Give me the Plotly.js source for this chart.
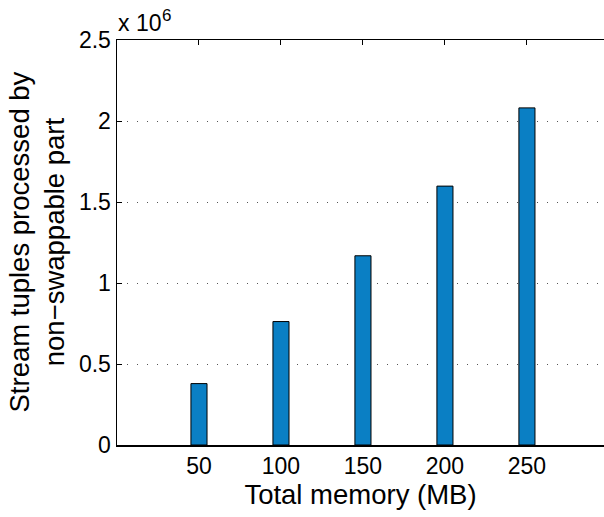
<!DOCTYPE html>
<html>
<head>
<meta charset="utf-8">
<script src="https://cdn.plot.ly/plotly-3.0.1.min.js"></script>
<style>html,body{margin:0;padding:0;background:#fff}#chart{width:604px;height:517px}</style>
</head>
<body>
<div id="chart"></div>
<script>
const memoryMB = [50, 100, 150, 200, 250];
const tuplesProcessed = [0.379e6, 0.762e6, 1.168e6, 1.598e6, 2.081e6];
const yTickVals = [0, 0.5e6, 1e6, 1.5e6, 2e6, 2.5e6];
const yTickText = ['0', '0.5', '1', '1.5', '2', '2.5'];
const xTickVals = [50, 100, 150, 200, 250];

const font = 'Liberation Sans, Arial, Helvetica, sans-serif';

const trace = {
  type: 'bar',
  x: memoryMB,
  y: tuplesProcessed,
  width: 9.8,
  marker: {color: '#0a7fc4', line: {color: '#000000', width: 1}},
  hoverinfo: 'x+y'
};

const layout = {
  width: 604, height: 517,
  margin: {l: 117, r: 0, t: 40, b: 71.5},
  paper_bgcolor: '#ffffff', plot_bgcolor: '#ffffff',
  showlegend: false,
  font: {family: font, size: 23, color: '#000'},
  xaxis: {
    range: [0, 297],
    tickvals: xTickVals,
    ticktext: xTickVals.map(String),
    ticks: 'inside', ticklen: 5, tickwidth: 1, tickcolor: '#000',
    showline: true, linecolor: '#000', linewidth: 1.5,
    mirror: 'ticks',
    showgrid: false, zeroline: false,
    layer: 'below traces',
    tickfont: {family: font, size: 23, color: '#000'},
    title: {text: 'Total memory (MB)', font: {family: font, size: 27.5, color: '#000'}, standoff: 1}
  },
  yaxis: {
    range: [0, 2.5e6],
    tickvals: yTickVals,
    ticktext: yTickText,
    ticks: 'inside', ticklen: 5, tickwidth: 1, tickcolor: '#000',
    showline: true, linecolor: '#000', linewidth: 1.5,
    mirror: false,
    showgrid: true, gridcolor: '#555', gridwidth: 1, griddash: '1px,9px',
    zeroline: false,
    layer: 'below traces',
    tickfont: {family: font, size: 23, color: '#000'},
    ticklabelstandoff: 0
  },
  annotations: [
    {
      text: 'Stream tuples processed by<br>non\u2212swappable part',
      xref: 'paper', yref: 'paper',
      x: (37 - 117) / 487, y: 0.5,
      xanchor: 'center', yanchor: 'middle',
      textangle: -90, showarrow: false,
      font: {family: font, size: 27.5, color: '#000'}
    },
    {
      text: 'x 10',
      xref: 'paper', yref: 'paper',
      x: 0, y: 1,
      xanchor: 'left', yanchor: 'bottom', yshift: 2, xshift: -1,
      showarrow: false,
      font: {family: font, size: 23, color: '#000'}
    },
    {
      text: '6',
      xref: 'paper', yref: 'paper',
      x: 0, y: 1,
      xanchor: 'left', yanchor: 'bottom', yshift: 13, xshift: 43,
      showarrow: false,
      font: {family: font, size: 17, color: '#000'}
    }
  ]
};

Plotly.newPlot('chart', [trace], layout, {displayModeBar: false, staticPlot: true});
</script>
</body>
</html>
